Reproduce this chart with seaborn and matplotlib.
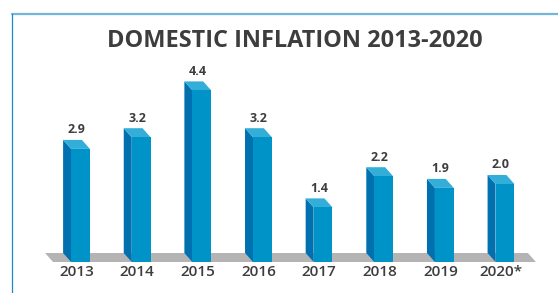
import numpy as np
import pandas as pd
import matplotlib
matplotlib.use("Agg")
import matplotlib.pyplot as plt
import seaborn as sns

years = ["2013", "2014", "2015", "2016", "2017", "2018", "2019", "2020*"]
inflation = [2.9, 3.2, 4.4, 3.2, 1.4, 2.2, 1.9, 2.0]
value_labels = ["2.9", "3.2", "4.4", "3.2", "1.4", "2.2", "1.9", "2.0"]

sns.set_theme(style="white")
plt.rcParams["font.family"] = ["Open Sans", "DejaVu Sans"]

front_col = "#0093c7"
side_col = "#0071ae"
top_col = "#33aed9"
floor_col = "#b4b4b4"
text_col = "#3d3d3d"

W, H, DPI = 558, 293, 100
fig = plt.figure(figsize=(W / DPI, H / DPI), dpi=DPI)
ax = fig.add_axes([0, 0, 1, 1])

# pixel mapping: category 0 -> x=80.5px, 60.64 px per category; y=0 -> 31px from bottom, 39 px per unit
px_x, px_y = 60.64, 39.0
dx, dy = 8 / px_x, 9 / px_y

df = pd.DataFrame({"year": years, "value": inflation})
sns.barplot(data=df, x="year", y="value", color=front_col, saturation=1,
            width=0.31, ax=ax, zorder=4)
bars = list(ax.patches)
ax.set_xlim(-80.5 / px_x, (W - 80.5) / px_x)
ax.set_ylim(-31 / px_y, (H - 31) / px_y)

# floor
fl, fr = -0.453, 7.51
ax.fill([fl, fr, fr - dx, fl - dx], [0, 0, dy, dy], color=floor_col, lw=0, zorder=1)

for i, p in enumerate(bars):
    x0, w, h = p.get_x(), p.get_width(), p.get_height()
    p.set_edgecolor("none")
    # left side face
    ax.fill([x0, x0 - dx, x0 - dx, x0], [0, dy, h + dy, h], color=side_col, lw=0, zorder=3)
    # top face
    ax.fill([x0, x0 - dx, x0 + w - dx, x0 + w], [h, h + dy, h + dy, h], color=top_col, lw=0, zorder=3)
    cx = x0 + w / 2 - dx / 2
    ax.text(cx, h + dy + 10 / px_y, value_labels[i], ha="center", va="center",
            fontsize=9, fontweight="bold", color=text_col, zorder=5)
    ax.text(cx, -10 / px_y, years[i], ha="center", va="center",
            fontsize=11, fontweight="semibold", color=text_col, zorder=5)

ax.set_axis_off()

# frame
fig.add_artist(plt.Line2D([12 / W, 1], [1 - 14 / H, 1 - 14 / H], color="#72b6d8", lw=1.6))
fig.add_artist(plt.Line2D([12 / W, 12 / W], [0, 1 - 14 / H], color="#1a8ac8", lw=0.9))

fig.text(295 / W, 1 - 41 / H, "DOMESTIC INFLATION 2013-2020", ha="center", va="center",
         fontsize=16.9, fontweight="bold", color=text_col)

fig.savefig("out.png", dpi=DPI)
